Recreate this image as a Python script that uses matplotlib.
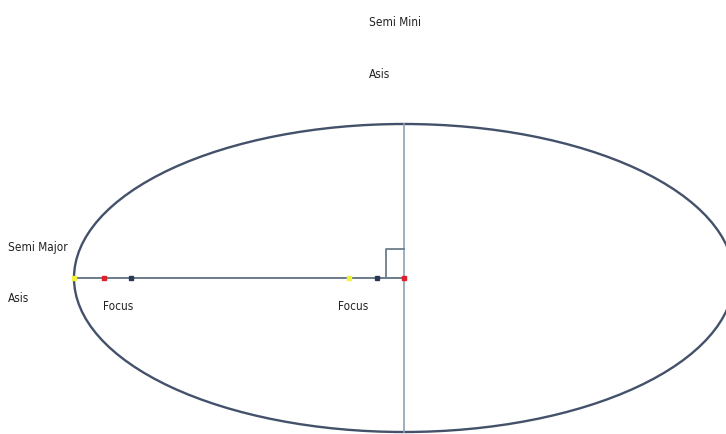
import numpy as np
import matplotlib.pyplot as plt
from matplotlib.patches import Ellipse

# geometry (pixel units, y downwards)
center = (404, 278)
semi_major = 330
semi_minor = 154
point_x = [74, 104, 131, 349, 377, 404]
point_colors = ["#f2f23a", "#e0202a", "#2a3a55", "#f2f23a", "#2a3a55", "#e0202a"]
labels = ["Semi Mini", "Asis", "Semi Major", "Asis", "Focus", "Focus"]
label_xy = [(369, 22), (369, 74), (8, 247), (8, 298), (103, 307), (338, 307)]

plt.rcParams['font.family'] = ['DejaVu Sans']

fig = plt.figure(figsize=(7.26, 4.34), dpi=100)
ax = fig.add_axes([0, 0, 1, 1])
ax.set_xlim(0, 726)
ax.set_ylim(434, 0)
ax.axis("off")

ell = Ellipse(center, 2 * semi_major, 2 * semi_minor, fill=False,
              edgecolor="#44516a", lw=1.7)
ax.add_patch(ell)

# semi major axis
ax.plot([point_x[0], center[0]], [center[1], center[1]], color="#5f7184", lw=1.3)
# semi minor axis
ax.plot([center[0], center[0]], [center[1] - semi_minor, center[1] + semi_minor],
        color="#8ea3b3", lw=1.2)
# right angle marker
ax.plot([386, 386, 404], [center[1], 249, 249], color="#6d7d8c", lw=1.3)

for x, c in zip(point_x, point_colors):
    ax.plot(x, center[1], marker="s", ms=3.5, color=c, mec=c)

for t, (x, y) in zip(labels, label_xy):
    ax.text(x, y, t, ha="left", va="center", fontsize=8.5,
            fontstretch="condensed", color="#222222")

fig.savefig("out.png", dpi=100)
